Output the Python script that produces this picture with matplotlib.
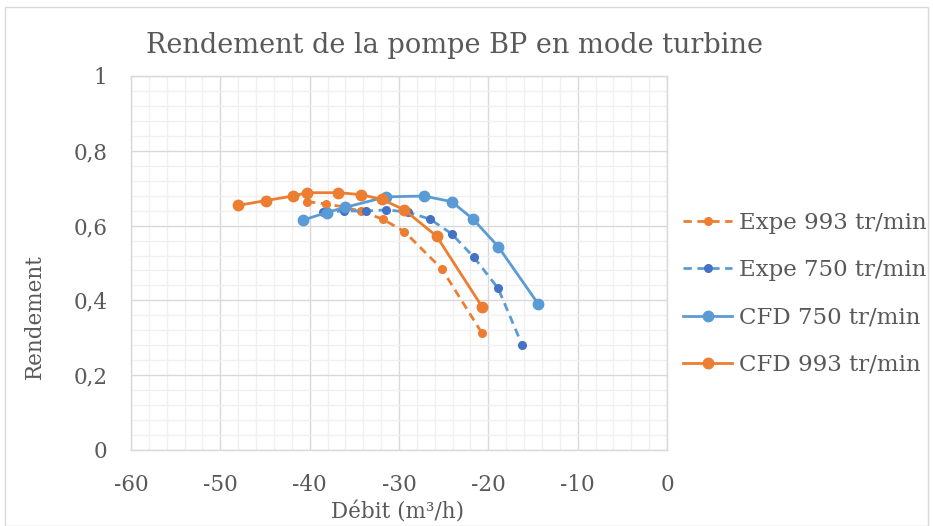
import matplotlib
matplotlib.use("Agg")
import matplotlib.pyplot as plt
from matplotlib.ticker import MultipleLocator, FuncFormatter
from matplotlib.patches import Rectangle

plt.rcParams['font.family'] = ['DejaVu Serif']

# Data
x_expe993 = [-40.3, -38.2, -36.2, -34.2, -31.8, -29.4, -25.2, -20.7]
y_expe993 = [0.664, 0.658, 0.650, 0.638, 0.617, 0.584, 0.484, 0.312]

x_expe750 = [-38.5, -36.2, -33.7, -31.4, -29.0, -26.5, -24.1, -21.6, -18.9, -16.2]
y_expe750 = [0.636, 0.639, 0.639, 0.642, 0.636, 0.617, 0.578, 0.515, 0.432, 0.280]

x_cfd750 = [-40.7, -38.1, -36.0, -31.4, -27.2, -24.1, -21.7, -18.9, -14.4]
y_cfd750 = [0.615, 0.635, 0.649, 0.677, 0.679, 0.664, 0.617, 0.544, 0.390]

x_cfd993 = [-48.0, -44.9, -41.9, -40.3, -36.8, -34.3, -31.9, -29.4, -25.8, -20.7]
y_cfd993 = [0.654, 0.667, 0.679, 0.688, 0.688, 0.683, 0.670, 0.642, 0.572, 0.383]

labels = ["Expe 993 tr/min", "Expe 750 tr/min", "CFD 750 tr/min", "CFD 993 tr/min"]
title = "Rendement de la pompe BP en mode turbine"
xlabel = "Débit (m³/h)"
ylabel = "Rendement"

orange = "#ED7D31"
lblue = "#5B9BD5"
dblue = "#4472C4"
text_col = "#595959"

W, H = 933, 526
fig = plt.figure(figsize=(W / 100, H / 100), dpi=100)
ax = fig.add_axes([131 / W, 1 - 450 / H, 536 / W, 374 / H])

# chart border
fig.add_artist(Rectangle((5 / W, 0), 1 - 10 / W, 1 - 7 / H, transform=fig.transFigure,
                         fill=False, edgecolor="#D9D9D9", linewidth=1))

ax.plot(x_expe993, y_expe993, '--', color=orange, lw=2.0, dashes=(3, 2),
        marker='o', ms=5.5, mfc=orange, mec=orange, label=labels[0], zorder=3)
ax.plot(x_expe750, y_expe750, '--', color=lblue, lw=2.0, dashes=(3, 2),
        marker='o', ms=5.5, mfc=dblue, mec=dblue, label=labels[1], zorder=3)
ax.plot(x_cfd750, y_cfd750, '-', color=lblue, lw=2.0,
        marker='o', ms=7.5, mfc=lblue, mec=lblue, label=labels[2], zorder=4)
ax.plot(x_cfd993, y_cfd993, '-', color=orange, lw=2.0,
        marker='o', ms=7.5, mfc=orange, mec=orange, label=labels[3], zorder=4)

ax.set_xlim(-60, 0)
ax.set_ylim(0, 1)
ax.xaxis.set_major_locator(MultipleLocator(10))
ax.xaxis.set_minor_locator(MultipleLocator(2))
ax.yaxis.set_major_locator(MultipleLocator(0.2))
ax.yaxis.set_minor_locator(MultipleLocator(0.04))
ax.yaxis.set_major_formatter(FuncFormatter(lambda v, p: ("%g" % round(v, 2)).replace('.', ',')))
ax.xaxis.set_major_formatter(FuncFormatter(lambda v, p: "%d" % round(v)))

ax.grid(which='major', color='#D9D9D9', lw=1.0)
ax.grid(which='minor', color='#F0F0F0', lw=1.0)
ax.set_axisbelow(True)
for s in ax.spines.values():
    s.set_color('#D9D9D9')
    s.set_linewidth(1.0)

ax.tick_params(which='both', length=0, colors=text_col, labelsize=15.5)
ax.tick_params(axis='y', pad=17)
ax.tick_params(axis='x', pad=17)

fig.text(398 / W, 1 - 519 / H, xlabel, ha='center', va='baseline', fontsize=15.5, color=text_col)
fig.text(35 / W, 1 - 317 / H, ylabel, ha='center', va='center', rotation=90,
         fontsize=15.5, color=text_col)

fig.text(455 / W, 1 - 53 / H, title, ha='center', va='baseline', fontsize=19.5, color=text_col)

leg = ax.legend(loc='center left', bbox_to_anchor=(683 / W, 1 - 294 / H), bbox_transform=fig.transFigure,
                frameon=False, fontsize=16.5, handlelength=2.15, labelspacing=1.1,
                handletextpad=0.3, borderpad=0, borderaxespad=0)
for t in leg.get_texts():
    t.set_color(text_col)

fig.savefig("out.png", dpi=100)
